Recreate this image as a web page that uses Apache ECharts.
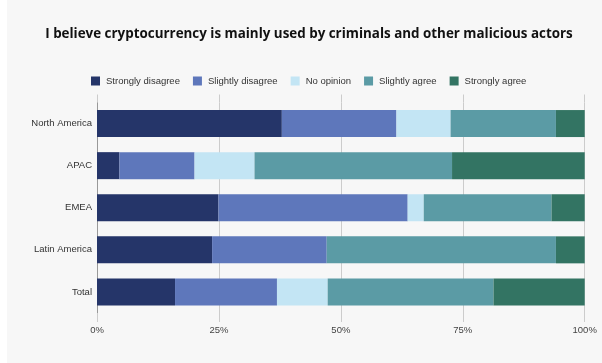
<!DOCTYPE html>
<html><head><meta charset="utf-8">
<script src="https://cdn.jsdelivr.net/npm/echarts@6/dist/echarts.min.js"></script>
<style>html,body{margin:0;padding:0;background:#fff;}#c{width:602px;height:363px;}</style>
</head><body><div id="c"></div>
<script>
const categories = ['North America', 'APAC', 'EMEA', 'Latin America', 'Total'];
const seriesNames = ['Strongly disagree', 'Slightly disagree', 'No opinion', 'Slightly agree', 'Strongly agree'];
const stronglyDisagree = [37.9, 4.6, 24.9, 23.6, 16.0];
const slightlyDisagree = [23.5, 15.4, 38.8, 23.5, 20.9];
const noOpinion = [11.1, 12.3, 3.3, 0, 10.4];
const slightlyAgree = [21.6, 40.5, 26.2, 47.0, 34.0];
const stronglyAgree = [5.9, 27.2, 6.8, 5.9, 18.7];
const tickValues = [0, 25, 50, 75, 100];
const colors = ['#253569', '#5e77bb', '#c3e5f4', '#5b9ba5', '#337463'];
const values = [stronglyDisagree, slightlyDisagree, noOpinion, slightlyAgree, stronglyAgree];

const chart = echarts.init(document.getElementById('c'));
chart.setOption({
  backgroundColor: '#f7f7f7',
  animation: false,
  color: colors,
  graphic: [{type: 'rect', left: 0, top: 0, shape: {width: 7, height: 363}, style: {fill: '#ffffff'}, z: -1}],
  title: {
    text: 'I believe cryptocurrency is mainly used by criminals and other malicious actors',
    left: 304, top: 23, textAlign: 'center',
    textStyle: {fontFamily: 'Open Sans', fontWeight: 'bold', fontSize: 13.4, color: '#111'}
  },
  legend: {
    data: seriesNames, top: 71, left: 86,
    itemWidth: 9, itemHeight: 9, itemGap: 13,
    icon: 'rect',
    textStyle: {fontFamily: 'Liberation Sans', fontSize: 9.5, color: '#333', padding: [0, 0, 0, 1]}
  },
  grid: {left: 97, right: 17.3, top: 102.5, bottom: 50},
  xAxis: [{
    type: 'value', min: 0, max: 100, interval: 25,
    axisLine: {show: false},
    axisTick: {show: true, length: 9, lineStyle: {color: '#cccccc'}},
    axisLabel: {formatter: v => tickValues.includes(v) ? v + '%' : '', fontFamily: 'Liberation Sans', fontSize: 9.5, color: '#444', margin: 12},
    splitLine: {show: true, lineStyle: {color: '#cccccc', width: 1}}
  }, {
    type: 'value', min: 0, max: 100, interval: 25, position: 'top',
    axisLine: {show: false},
    axisTick: {show: true, length: 8, lineStyle: {color: '#cccccc'}},
    axisLabel: {show: false},
    splitLine: {show: false}
  }],
  yAxis: {
    type: 'category', data: categories, inverse: true,
    axisLine: {show: true, lineStyle: {color: '#999999', width: 1}},
    axisTick: {show: false},
    axisLabel: {fontFamily: 'Liberation Sans', fontSize: 9.5, color: '#333', margin: 5}
  },
  series: seriesNames.map((n, i) => ({
    name: n, type: 'bar', stack: 'a', data: values[i], barWidth: 27,
    itemStyle: {color: colors[i]}
  }))
});
</script></body></html>
